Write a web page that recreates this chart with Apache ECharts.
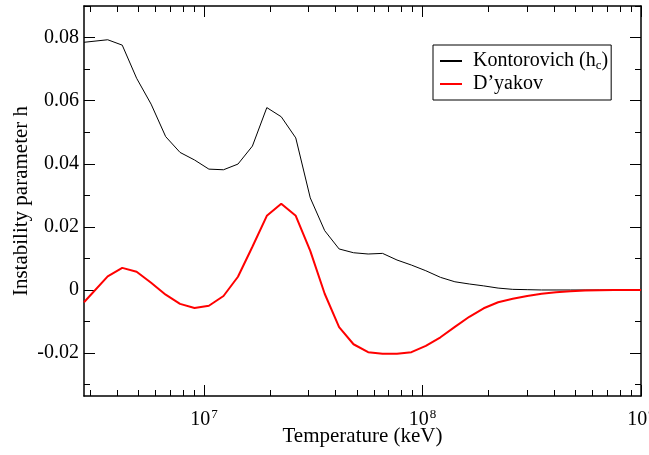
<!DOCTYPE html>
<html><head><meta charset="utf-8">
<script src="https://cdn.jsdelivr.net/npm/echarts@6/dist/echarts.min.js"></script>
<style>html,body{margin:0;padding:0;background:#fff}#c{width:649px;height:455px}</style>
</head><body><div id="c"></div>
<script>
const temperature = [2.82e6, 3.62e6, 4.22e6, 4.91e6, 5.72e6, 6.67e6, 7.76e6, 9.04e6, 1.052e7, 1.227e7, 1.429e7, 1.664e7, 1.937e7, 2.255e7, 2.628e7, 3.062e7, 3.565e7, 4.15e7, 4.831e7, 5.636e7, 6.561e7, 7.638e7, 8.892e7, 1.035e8, 1.208e8, 1.406e8, 1.637e8, 1.905e8, 2.218e8, 2.588e8, 3.013e8, 3.508e8, 4.083e8, 4.753e8, 5.546e8, 6.457e8, 7.516e8, 8.75e8, 1e9];
const kontorovich = [0.0785, 0.0793, 0.0776, 0.0671, 0.0589, 0.0486, 0.0436, 0.0412, 0.0383, 0.0381, 0.0399, 0.0456, 0.0578, 0.0549, 0.0482, 0.0292, 0.0188, 0.0130, 0.0118, 0.0114, 0.0116, 0.0095, 0.0079, 0.0061, 0.0040, 0.0026, 0.0019, 0.0013, 0.0006, 0.0002, 0.0001, 0, 0, 0, 0, 0, 0, 0, 0];
const dyakov = [-0.0039, 0.0043, 0.0070, 0.0058, 0.0023, -0.0015, -0.0044, -0.0057, -0.0050, -0.0019, 0.0042, 0.0137, 0.0235, 0.0273, 0.0235, 0.0124, -0.0012, -0.0118, -0.0172, -0.0197, -0.0202, -0.0202, -0.0197, -0.0177, -0.0150, -0.0117, -0.0085, -0.0058, -0.0039, -0.0028, -0.0019, -0.0012, -0.0007, -0.0004, -0.0002, -0.0001, 0, 0, 0];
const seriesNames = ['Kontorovich (hc)', 'D\u2019yakov'];
const xMajorTicks = [1e7, 1e8, 1e9];
const xMinorTicks = [3e6, 4e6, 5e6, 6e6, 7e6, 8e6, 9e6, 2e7, 3e7, 4e7, 5e7, 6e7, 7e7, 8e7, 9e7, 2e8, 3e8, 4e8, 5e8, 6e8, 7e8, 8e8, 9e8];
const yMajorTicks = [-0.02, 0, 0.02, 0.04, 0.06, 0.08];
const yMinorTicks = [-0.03, -0.01, 0.01, 0.03, 0.05, 0.07, 0.09];
const xMin = 2.82e6, xMax = 1e9, yMin = -0.0336, yMax = 0.09;

const FONT = "'Liberation Serif','Times New Roman',serif";
const chart = echarts.init(document.getElementById('c'), null, {renderer: 'canvas'});

function xAx(pos, ticks, len, showLabel, showLine) {
  return {
    type: 'log', position: pos, min: xMin, max: xMax, logBase: 10,
    axisLine: {show: showLine, onZero: false, lineStyle: {color: '#000', width: 1.5}},
    axisTick: {show: true, inside: true, length: len, customValues: ticks, lineStyle: {color: '#000', width: 1}},
    axisLabel: showLabel ? {
      show: true, customValues: ticks, margin: 12, hideOverlap: false,
      formatter: v => '{b|10}{s|' + Math.round(Math.log10(v)) + '}',
      rich: {
        b: {fontFamily: FONT, fontSize: 20, color: '#000', lineHeight: 22, verticalAlign: 'bottom'},
        s: {fontFamily: FONT, fontSize: 13, color: '#000', lineHeight: 22, verticalAlign: 'top', padding: [0, 0, 0, 1]}
      }
    } : {show: false},
    splitLine: {show: false}, minorTick: {show: false}
  };
}
function yAx(pos, ticks, len, showLabel, showLine) {
  return {
    type: 'value', position: pos, min: yMin, max: yMax,
    axisLine: {show: showLine, onZero: false, lineStyle: {color: '#000', width: 1.5}},
    axisTick: {show: true, inside: true, length: len, customValues: ticks, lineStyle: {color: '#000', width: 1}},
    axisLabel: showLabel ? {
      show: true, customValues: ticks, margin: 5,
      fontFamily: FONT, fontSize: 20, color: '#000',
      formatter: v => Math.abs(v) < 1e-9 ? '0' : v.toFixed(2)
    } : {show: false},
    splitLine: {show: false}
  };
}

const xAxes = [xAx('bottom', xMajorTicks, 11, true, true), xAx('bottom', xMinorTicks, 6, false, false),
               xAx('top', xMajorTicks, 11, false, true), xAx('top', xMinorTicks, 6, false, false)];
Object.assign(xAxes[0], {
  name: 'Temperature (keV)', nameLocation: 'middle', nameGap: 30, nameMoveOverlap: false,
  nameTextStyle: {fontFamily: FONT, fontSize: 21, color: '#000'}
});
const yAxes = [yAx('left', yMajorTicks, 11, true, true), yAx('left', yMinorTicks, 6, false, false),
               yAx('right', yMajorTicks, 11, false, true), yAx('right', yMinorTicks, 6, false, false)];
Object.assign(yAxes[0], {
  name: 'Instability parameter h', nameLocation: 'middle', nameGap: 52, nameMoveOverlap: false,
  nameTextStyle: {fontFamily: FONT, fontSize: 21, color: '#000'}
});

chart.setOption({
  animation: false,
  backgroundColor: '#fff',
  grid: {left: 84, right: 8, top: 6, bottom: 59, containLabel: false, outerBoundsMode: 'none'},
  xAxis: xAxes,
  yAxis: yAxes,
  legend: {
    left: 433, top: 45, orient: 'vertical',
    borderColor: '#000', borderWidth: 1, padding: [6, 3, 6, 6],
    itemWidth: 22, itemHeight: 14, itemGap: 2,
    itemStyle: {opacity: 0},
    data: seriesNames,
    formatter: name => name === seriesNames[0] ? '{n|Kontorovich (h}{sub|c}{n|)}' : '{n|' + name + '}',
    textStyle: {
      padding: [0, 0, 0, 6],
      rich: {
        n: {fontFamily: FONT, fontSize: 20, color: '#000', lineHeight: 22},
        sub: {fontFamily: FONT, fontSize: 13, color: '#000', lineHeight: 22, verticalAlign: 'bottom'}
      }
    }
  },
  series: [
    {name: seriesNames[0], type: 'line', xAxisIndex: 0, yAxisIndex: 0, symbol: 'none', showSymbol: false,
     lineStyle: {color: '#000', width: 1}, itemStyle: {color: '#000'},
     data: temperature.map((t, i) => [t, kontorovich[i]])},
    {name: seriesNames[1], type: 'line', xAxisIndex: 0, yAxisIndex: 0, symbol: 'none', showSymbol: false,
     lineStyle: {color: '#ff0000', width: 2}, itemStyle: {color: '#ff0000'},
     data: temperature.map((t, i) => [t, dyakov[i]])}
  ]
});
</script></body></html>
